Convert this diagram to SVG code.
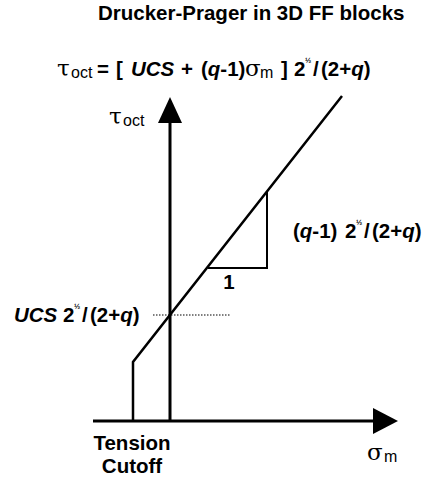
<svg xmlns="http://www.w3.org/2000/svg" width="444" height="484" viewBox="0 0 444 484">
<style>
.b{font-family:"Liberation Sans",Arial,sans-serif;font-weight:bold;font-size:20.5px;fill:#000}
.r{font-family:"Liberation Sans",Arial,sans-serif;font-weight:normal;font-size:16px;fill:#000}
.g{font-family:"DejaVu Serif","Liberation Serif",serif;font-size:23px;font-weight:normal}
.i{font-style:italic}
.sup{font-size:7.5px}
.ln{stroke:#000;fill:none}
</style>
<rect width="444" height="484" fill="#fff"/>
<g id="title"><text class="b" x="98" y="20" font-size="21.2">Drucker-Prager in 3D FF blocks</text></g>
<g id="formula"><text class="b" y="76"><tspan class="g" x="57">τ</tspan><tspan class="r" x="71" dy="2">oct</tspan><tspan x="97" dy="-2">=</tspan><tspan x="116">[</tspan><tspan class="i" x="131">UCS</tspan><tspan x="181">+</tspan><tspan x="201">(</tspan><tspan class="i">q</tspan><tspan>-1)</tspan><tspan class="g" x="245">σ</tspan><tspan class="r" x="260" dy="2">m</tspan><tspan x="281" dy="-2">]</tspan><tspan x="294">2</tspan><tspan class="sup" x="305" dy="-13">½</tspan><tspan x="313" dy="13">/</tspan><tspan x="321">(2+</tspan><tspan class="i">q</tspan><tspan>)</tspan></text></g>
<g id="connectors">
<line class="ln" x1="170" y1="120" x2="170" y2="421" stroke-width="3"/>
<polygon points="170,97 158,123 182,123" fill="#000"/>
<line class="ln" x1="93" y1="421" x2="376" y2="421" stroke-width="3"/>
<polygon points="398,421 373,408 373,434" fill="#000"/>
<polyline class="ln" points="133,421 133,362 342,96" stroke-width="2.5"/>
<polyline class="ln" points="208,268 267,268 267,192" stroke-width="2"/>
<line class="ln" x1="153" y1="315" x2="230" y2="315" stroke-width="1.2" stroke-dasharray="1.5,1.5"/>
</g>
<g id="tau-label"><text class="r" y="124"><tspan class="g" x="109">τ</tspan><tspan x="123" dy="2">oct</tspan></text></g>
<g id="sigma-label"><text class="r" y="460"><tspan class="g" x="367">σ</tspan><tspan x="384" dy="2">m</tspan></text></g>
<g id="slope-label"><text class="b" y="238"><tspan x="293">(</tspan><tspan class="i">q</tspan><tspan>-1)</tspan><tspan x="345">2</tspan><tspan class="sup" x="356" dy="-13">½</tspan><tspan x="364" dy="13">/</tspan><tspan x="372">(2+</tspan><tspan class="i">q</tspan><tspan>)</tspan></text></g>
<g id="one-label"><text class="b" x="229" y="289" text-anchor="middle">1</text></g>
<g id="ucs-label"><text class="b" y="322"><tspan class="i" x="14">UCS</tspan><tspan x="63">2</tspan><tspan class="sup" x="74" dy="-13">½</tspan><tspan x="82" dy="13">/</tspan><tspan x="90">(2+</tspan><tspan class="i">q</tspan><tspan>)</tspan></text></g>
<g id="tension-label"><text class="b" text-anchor="middle" font-size="21"><tspan x="132" y="450">Tension</tspan><tspan x="132" y="473">Cutoff</tspan></text></g>
</svg>
